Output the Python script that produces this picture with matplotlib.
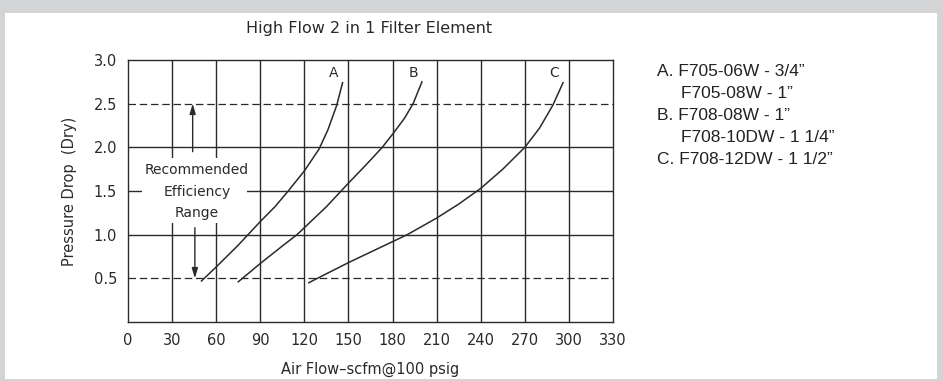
import numpy as np
import matplotlib.pyplot as plt
from matplotlib.patches import Rectangle

# curves: air flow (scfm) vs pressure drop (psi)
flow_a = [50, 60, 75, 90, 100, 109, 120, 130, 136, 142, 146]
dp_a = [0.47, 0.63, 0.88, 1.15, 1.32, 1.50, 1.73, 1.98, 2.20, 2.48, 2.74]
flow_b = [75, 90, 105, 115, 120, 135, 145, 150, 162, 173, 180, 188, 194, 200]
dp_b = [0.46, 0.67, 0.87, 1.00, 1.08, 1.32, 1.50, 1.59, 1.80, 2.00, 2.15, 2.33, 2.50, 2.75]
flow_c = [123, 150, 180, 190, 210, 225, 240, 255, 270, 280, 289, 296]
dp_c = [0.45, 0.68, 0.92, 1.00, 1.19, 1.35, 1.53, 1.75, 2.00, 2.22, 2.48, 2.74]

x_ticks = list(range(0, 331, 30))
y_ticks = [0.5, 1.0, 1.5, 2.0, 2.5, 3.0]
curve_names = ['A', 'B', 'C']
legend_lines = ['A. F705-06W - 3/4\u201d', 'F705-08W - 1\u201d', 'B. F708-08W - 1\u201d',
                'F708-10DW - 1 1/4\u201d', 'C. F708-12DW - 1 1/2\u201d']

cad = ['DejaVu Sans']
ink = '#2a2a2a'

W, H = 943, 381
fig = plt.figure(figsize=(W / 100, H / 100), dpi=100)
fig.patch.set_facecolor('#d3d4d6')
fig.patches.append(Rectangle((5 / W, 2 / H), 932 / W, 366 / H, transform=fig.transFigure,
                             facecolor='white', edgecolor='none', zorder=-5))

ax = fig.add_axes([128 / W, 1 - 322 / H, 485 / W, 262 / H])
ax.set_zorder(2)
ax.set_xlim(0, 330)
ax.set_ylim(0, 3.0)

# grid: solid verticals, solid at 1.0/1.5/2.0, dashed at 0.5 and 2.5
for x in x_ticks[1:-1]:
    ax.axvline(x, color=ink, lw=1.0, zorder=1)
for y in [1.0, 1.5, 2.0]:
    ax.axhline(y, color=ink, lw=1.0, zorder=1)
for y in [0.5, 2.5]:
    ax.axhline(y, color=ink, lw=0.9, ls=(0, (6, 3)), zorder=1)
for s in ax.spines.values():
    s.set_color(ink)
    s.set_linewidth(1.0)

# recommended efficiency range note
ax.add_patch(Rectangle((9.5, 1.13), 71.5, 0.75, facecolor='white', edgecolor='none', zorder=2))
ax.text(47, 1.74, 'Recommended', ha='center', va='center', fontsize=10, family=cad, color=ink, zorder=3)
ax.text(47, 1.49, 'Efficiency', ha='center', va='center', fontsize=10, family=cad, color=ink, zorder=3)
ax.text(47, 1.25, 'Range', ha='center', va='center', fontsize=10, family=cad, color=ink, zorder=3)
arrow = dict(arrowstyle='-|>,head_length=0.6,head_width=0.18', color=ink, lw=1.0, shrinkA=0, shrinkB=0)
ax.annotate('', xy=(44, 2.5), xytext=(44, 1.95), arrowprops=arrow, zorder=3)
ax.annotate('', xy=(45.5, 0.5), xytext=(45.5, 1.08), arrowprops=arrow, zorder=3)

for fx, dp, name in zip([flow_a, flow_b, flow_c], [dp_a, dp_b, dp_c], curve_names):
    ax.plot(fx, dp, color=ink, lw=1.1, zorder=4)
    ax.text(fx[-1] - 6, 2.85, name, ha='center', va='center', fontsize=10, family=cad, color=ink)

ax.set_xticks(x_ticks)
ax.set_yticks(y_ticks)
ax.set_xticklabels([str(v) for v in x_ticks], family=cad, fontsize=10.5, color=ink)
ax.set_yticklabels(['%.1f' % v for v in y_ticks], family=cad, fontsize=10.5, color=ink)
ax.tick_params(length=0, pad=8)
ax.set_xlabel('Air Flow\u2013scfm@100 psig', family=cad, fontsize=10.5, color=ink, labelpad=10)
ax.set_ylabel('Pressure Drop  (Dry)', family=cad, fontsize=10.5, color=ink, labelpad=12)

fig.text(369 / W, 1 - 29 / H, 'High Flow 2 in 1 Filter Element', ha='center', va='center',
         family=cad, fontsize=11.5, color=ink)

# model list on the right
rows_y = [72, 93, 116, 138, 160]
rows_x = [657, 681, 657, 681, 657]
for txt, x, y in zip(legend_lines, rows_x, rows_y):
    fig.text(x / W, 1 - y / H, txt, ha='left', va='center', family=['Liberation Sans', 'DejaVu Sans'],
             fontsize=12.5, color='#222222')

fig.savefig('out.png', dpi=100, facecolor=fig.get_facecolor())
